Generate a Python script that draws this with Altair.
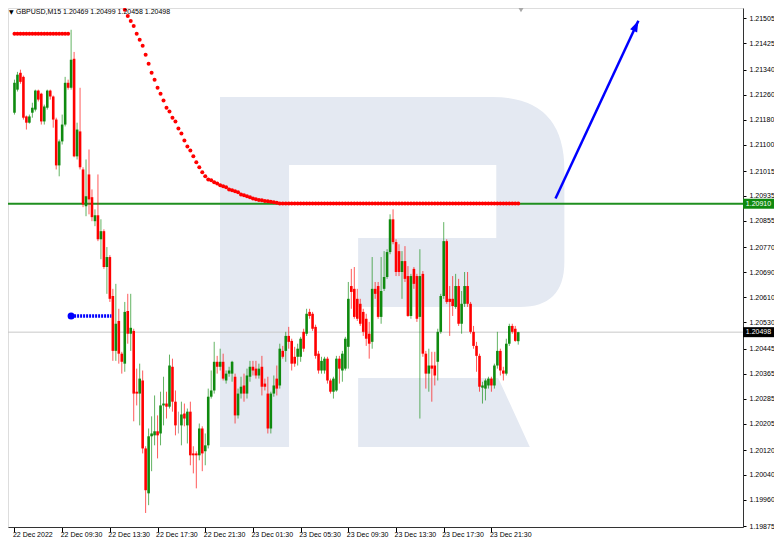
import altair as alt
import numpy as np
import pandas as pd

# ---------------- data (prices as points above BASE, 1 point = 0.00001) ----------------
BASE = 1.20000
PT = 0.00001

time_labels = ["22 Dec 2022", "22 Dec 09:30", "22 Dec 13:30", "22 Dec 17:30", "22 Dec 21:30",
               "23 Dec 01:30", "23 Dec 05:30", "23 Dec 09:30", "23 Dec 13:30", "23 Dec 17:30",
               "23 Dec 21:30"]
time_label_idx = [0, 16, 32, 48, 64, 80, 96, 112, 128, 144, 160]

price_ticks = [1.21505, 1.21425, 1.21340, 1.21260, 1.21180, 1.21100, 1.21015, 1.20935,
               1.20855, 1.20770, 1.20690, 1.20610, 1.20530, 1.20445, 1.20365, 1.20285,
               1.20205, 1.20120, 1.20040, 1.19960, 1.19875]

open_pts = [1202, 1276, 1330, 1317, 1190, 1170, 1202, 1212, 1273, 1263,
            1174, 1218, 1273, 1254, 1180, 1033, 1110, 1164, 1298, 1282,
            1375, 1062, 1142, 1020, 902, 1004, 931, 854, 873, 796,
            822, 707, 739, 614, 438, 534, 429, 397, 566, 493,
            502, 307, 301, 343, 125, -19, 164, 167, 180, 173,
            263, 269, 259, 387, 275, 205, 199, 237, 199, 243,
            109, 109, 103, 189, 116, 135, 291, 311, 403, 387,
            403, 343, 365, 365, 355, 231, 301, 327, 301, 355,
            387, 381, 359, 387, 333, 301, 189, 301, 349, 327,
            438, 438, 486, 470, 419, 419, 419, 499, 493, 563,
            557, 515, 429, 375, 375, 413, 343, 307, 311, 413,
            375, 381, 451, 646, 637, 605, 589, 563, 541, 493,
            467, 637, 646, 547, 637, 675, 755, 860, 787, 758,
            691, 726, 678, 550, 701, 678, 547, 685, 429, 365,
            391, 391, 403, 499, 614, 790, 605, 605, 579, 646,
            525, 589, 646, 589, 499, 454, 422, 320, 317, 327,
            349, 327, 391, 438, 375, 365, 461, 518, 509, 469]

high_pts = [1308, 1333, 1340, 1321, 1193, 1196, 1234, 1276, 1276, 1266,
            1228, 1276, 1276, 1257, 1186, 1116, 1196, 1317, 1308, 1468,
            1397, 1170, 1282, 1027, 1052, 1084, 956, 892, 1004, 860,
            828, 771, 745, 637, 653, 573, 435, 595, 621, 621,
            509, 381, 397, 375, 132, 189, 228, 295, 231, 307,
            355, 307, 426, 413, 311, 243, 275, 269, 253, 275,
            132, 116, 205, 196, 173, 317, 375, 467, 422, 445,
            429, 375, 387, 406, 365, 317, 355, 365, 381, 406,
            406, 406, 397, 422, 349, 355, 307, 359, 391, 461,
            454, 499, 515, 477, 451, 461, 483, 509, 573, 573,
            563, 522, 438, 419, 419, 419, 349, 355, 422, 422,
            438, 483, 659, 701, 707, 637, 605, 573, 557, 531,
            739, 659, 659, 739, 758, 764, 876, 892, 796, 780,
            758, 774, 710, 685, 707, 685, 764, 694, 438, 445,
            435, 435, 509, 621, 851, 796, 646, 678, 685, 669,
            630, 691, 691, 595, 518, 467, 429, 339, 349, 355,
            355, 397, 499, 445, 387, 477, 525, 525, 518, 499]

low_pts = [1196, 1270, 1295, 1180, 1148, 1167, 1186, 1206, 1238, 1164,
           1164, 1212, 1244, 1154, 1020, 998, 1100, 1158, 1276, 1276,
           1059, 1052, 1020, 899, 870, 876, 854, 838, 790, 732,
           701, 621, 595, 406, 406, 397, 365, 371, 461, 438,
           212, 263, 199, 109, -82, -57, 52, 135, 93, 135,
           199, 221, 253, 243, 167, 173, 135, 196, 141, 71,
           45, -3, 87, 52, 71, 125, 285, 301, 365, 375,
           343, 333, 355, 339, 205, 221, 285, 275, 285, 339,
           359, 349, 349, 295, 311, 173, 173, 291, 295, 317,
           413, 403, 445, 375, 387, 391, 403, 435, 486, 541,
           502, 413, 365, 365, 365, 333, 301, 285, 307, 333,
           339, 375, 381, 573, 541, 534, 518, 486, 454, 413,
           445, 605, 541, 525, 630, 669, 748, 780, 678, 678,
           605, 659, 547, 541, 637, 531, 221, 419, 317, 307,
           275, 327, 343, 493, 605, 589, 486, 550, 573, 518,
           493, 579, 579, 493, 445, 371, 307, 269, 279, 317,
           307, 317, 381, 359, 343, 359, 454, 493, 467, 458]

close_pts = [1298, 1324, 1301, 1186, 1170, 1190, 1218, 1273, 1244, 1174,
             1222, 1273, 1254, 1180, 1033, 1110, 1164, 1298, 1282, 1372,
             1062, 1148, 1027, 908, 934, 924, 867, 873, 796, 822,
             707, 739, 605, 438, 525, 429, 403, 563, 493, 512,
             301, 301, 349, 125, -9, 164, 173, 180, 167, 263,
             269, 259, 391, 275, 199, 205, 234, 221, 243, 103,
             103, 103, 189, 109, 135, 291, 311, 403, 387, 403,
             349, 365, 375, 403, 231, 301, 323, 301, 359, 387,
             375, 359, 381, 323, 323, 189, 301, 327, 317, 445,
             419, 486, 467, 397, 397, 445, 477, 445, 557, 550,
             509, 422, 375, 406, 413, 343, 307, 349, 413, 381,
             429, 477, 605, 627, 547, 541, 525, 499, 477, 461,
             637, 621, 547, 630, 675, 755, 860, 787, 691, 691,
             726, 669, 550, 678, 653, 541, 678, 429, 365, 391,
             381, 359, 499, 614, 790, 595, 595, 582, 646, 525,
             589, 646, 589, 499, 454, 422, 323, 327, 343, 349,
             327, 391, 438, 375, 365, 461, 518, 499, 470, 498]

# red dotted indicator: flat segment at the start, then the descending curve
top_dot_idx = list(range(0, 19))
top_dot_pts = [1455] * 19
ma_dot_idx = list(range(36, 170))
ma_dot_pts = ([1544, 1532, 1512, 1496, 1480, 1455, 1436, 1417, 1388, 1359,
               1330, 1308, 1282, 1263, 1241, 1218, 1206, 1186, 1174, 1151,
               1135, 1113, 1094, 1081, 1062, 1043, 1027, 1011, 998, 988,
               985, 979, 975, 969, 966, 963, 956, 953, 950, 947,
               940, 937, 934, 931, 927, 924, 922, 921, 919, 918,
               916, 915, 913] + [911] * 81)

blue_level_idx = [19, 32.5]
blue_level_price = [1.20550, 1.20550]
arrow_idx = [181.5, 209.3]
arrow_price = [1.20927, 1.21497]
green_level = 1.20910
last_price = 1.20498
header_text = "GBPUSD,M15  1.20469 1.20499 1.20458 1.20498"

# ---------------- styling ----------------
W, H = 735, 519
XMIN, XMAX = -0.4964, 242.72
YMIN, YMAX = 1.19873, 1.215379
GREEN = "#0f8a0f"
RED = "#ff0000"
BLUE = "#0000ff"
FONT = "Liberation Sans"
WM = "#e4e9f2"

XS = alt.Scale(domain=[XMIN, XMAX], nice=False, zero=False)
YS = alt.Scale(domain=[YMIN, YMAX], nice=False, zero=False)

label_js = "[" + ",".join("'%s'" % s for s in time_labels) + "]"
x_axis = alt.Axis(values=time_label_idx, labelExpr=label_js + "[round(datum.value/16)]",
                  orient="bottom", tickSize=5, tickColor="#000", domainColor="#333",
                  labelAlign="left", labelBaseline="top", labelPadding=-2, labelOffset=-2,
                  labelFont=FONT, labelFontSize=7, labelColor="#000", grid=False,
                  title=None, labelOverlap=False, labelFlush=False)
y_axis = alt.Axis(values=price_ticks, format=".5f", orient="right", tickSize=3,
                  tickColor="#000", domainColor="#333", labelPadding=3,
                  labelFont=FONT, labelFontSize=7, labelColor="#000", grid=False,
                  title=None, labelOverlap=False, labelFlush=False)


def X(f):
    return alt.X(f, type="quantitative", scale=XS, axis=x_axis)


def Y(f):
    return alt.Y(f, type="quantitative", scale=YS, axis=y_axis)


df = pd.DataFrame({
    "i": np.arange(len(open_pts)),
    "o": BASE + np.array(open_pts) * PT,
    "h": BASE + np.array(high_pts) * PT,
    "l": BASE + np.array(low_pts) * PT,
    "c": BASE + np.array(close_pts) * PT,
})
df["dir"] = np.select([df.c > df.o, df.c < df.o], ["up", "down"], "flat")
df["bt"] = df[["o", "c"]].max(axis=1)
df["bb"] = df[["o", "c"]].min(axis=1)

color = alt.Color("dir:N", scale=alt.Scale(domain=["up", "down", "flat"],
                                           range=[GREEN, RED, "#808080"]), legend=None)

one = pd.DataFrame({"a": [0]})


# watermark "R" drawn as one custom symbol (decoration, pixel geometry)
def fx(x):
    return 1.5 + 0.98678 * (x - 2.7)


def fy(y):
    return y - 8


CX, CY, S = fx(390.5), fy(272.5), 176.0


def nx(x):
    return (fx(x) - CX) / S


def ny(y):
    return (fy(y) - CY) / S


def path(cmds):
    out = []
    for c in cmds:
        if c[0] == "Z":
            out.append("Z")
        elif c[0] == "Q":
            out.append("Q%.4f,%.4f %.4f,%.4f" % (nx(c[1]), ny(c[2]), nx(c[3]), ny(c[4])))
        else:
            out.append("%s%.4f,%.4f" % (c[0], nx(c[1]), ny(c[2])))
    return "".join(out)


r_shape = path([("M", 216, 97), ("L", 492, 97), ("Q", 565, 97, 565, 170), ("L", 565, 262),
                ("Q", 565, 307, 520, 307), ("L", 356, 307), ("L", 356, 238), ("L", 496, 238),
                ("L", 496, 165), ("L", 286, 165), ("L", 286, 447), ("L", 216, 447), ("Z",),
                ("M", 356, 378), ("L", 498, 378), ("L", 530, 447), ("L", 356, 447), ("Z",)])

watermark = alt.Chart(one).mark_point(shape=r_shape, filled=True, color=WM, opacity=1,
                                      size=(2 * S) ** 2, strokeWidth=0).encode(
    x=alt.value(CX), y=alt.value(CY))

lv = pd.DataFrame({"p": [green_level], "t": ["%.5f" % green_level]})
lp = pd.DataFrame({"p": [last_price], "t": ["%.5f" % last_price]})

grey_line = alt.Chart(lp).mark_rule(color="#c8c8c8", strokeWidth=1).encode(
    y=Y("p"), x=alt.value(0), x2=alt.value(W))
green_line = alt.Chart(lv).mark_rule(color="#1f8f1f", strokeWidth=2).encode(
    y=Y("p"), x=alt.value(0), x2=alt.value(W))

base = alt.Chart(df)
wicks = base.mark_rule(strokeWidth=1, opacity=0.65).encode(x=X("i"), y=Y("l"), y2="h", color=color)
bodies = base.mark_bar(size=2.6).encode(x=X("i"), y=Y("bb"), y2="bt", color=color)

top_dots = alt.Chart(pd.DataFrame({"i": top_dot_idx, "p": BASE + np.array(top_dot_pts) * PT})).mark_circle(
    size=16, color=RED, opacity=1).encode(x=X("i"), y=Y("p"))
ma_dots = alt.Chart(pd.DataFrame({"i": ma_dot_idx, "p": BASE + np.array(ma_dot_pts) * PT})).mark_circle(
    size=16, color=RED, opacity=1).encode(x=X("i"), y=Y("p"))

bl = pd.DataFrame({"i": blue_level_idx, "p": blue_level_price})
blue_line = alt.Chart(bl).mark_line(color=BLUE, strokeWidth=3.5, strokeDash=[2, 1]).encode(
    x=X("i"), y=Y("p"))
blue_dot = alt.Chart(bl.iloc[:1]).mark_circle(color=BLUE, size=50, opacity=1).encode(x=X("i"), y=Y("p"))

ar = pd.DataFrame({"i": arrow_idx, "p": arrow_price})
arrow_line = alt.Chart(ar).mark_line(color=BLUE, strokeWidth=2.5, strokeCap="butt").encode(
    x=X("i"), y=Y("p"))
arrow_head = alt.Chart(ar.iloc[1:]).mark_point(shape="M0,0L0.55,1.6L-0.55,1.6Z", filled=True,
                                               color=BLUE, opacity=1, angle=25, size=196,
                                               strokeWidth=0).encode(x=X("i"), y=Y("p"))

BOXC = W + 15.5
green_box = alt.Chart(lv).mark_tick(orient="horizontal", size=31, thickness=10, opacity=1,
                                    color="#0f8a0f").encode(y=Y("p"), x=alt.value(BOXC))
black_box = alt.Chart(lp).mark_tick(orient="horizontal", size=31, thickness=10, opacity=1,
                                    color="#000000").encode(y=Y("p"), x=alt.value(BOXC))
box_txt = alt.Chart(pd.concat([lv, lp])).mark_text(color="#ffffff", font=FONT, fontSize=7,
                                                   align="center", baseline="middle").encode(
    y=Y("p"), x=alt.value(BOXC), text="t:N")

shift_marker = alt.Chart(one).mark_point(shape="triangle-down", filled=True, color="#a8a8a8",
                                         opacity=1, size=30, strokeWidth=0).encode(
    x=alt.value(513), y=alt.value(2))
header_tri = alt.Chart(one).mark_text(text="▼", font="DejaVu Sans", fontSize=6, color="#000",
                                      align="left", baseline="top").encode(x=alt.value(1), y=alt.value(1))
header = alt.Chart(one).mark_text(text=header_text, font=FONT, fontSize=7, color="#000",
                                  align="left", baseline="top").encode(x=alt.value(8), y=alt.value(-0.5))

chart = alt.layer(
    watermark, grey_line, green_line, wicks, bodies, top_dots, ma_dots,
    blue_line, blue_dot, arrow_line, arrow_head, green_box, black_box, box_txt,
    shift_marker, header_tri, header
).properties(
    width=W, height=H,
    autosize=alt.AutoSizeParams(type="none"),
    padding={"left": 0, "top": 0, "right": 31, "bottom": 11},
).configure_view(stroke="#a0a0a0", strokeWidth=1).configure(background="white")

chart.save("out.html", embed_options={"renderer": "svg", "actions": False})
